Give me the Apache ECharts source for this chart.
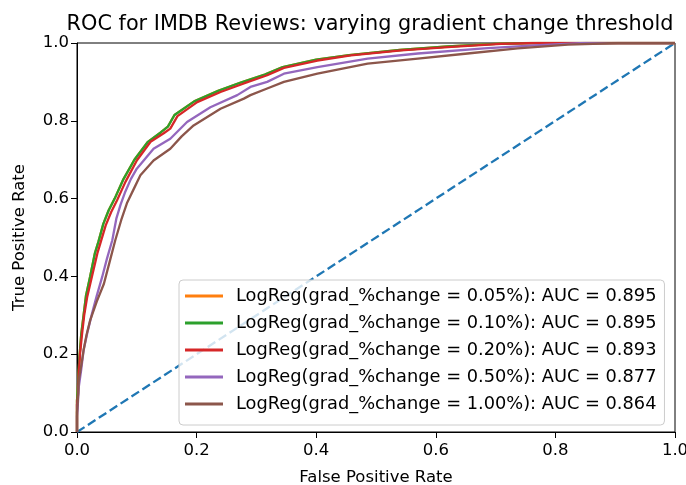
<!DOCTYPE html>
<html>
<head>
<meta charset="utf-8">
<script src="https://cdn.jsdelivr.net/npm/echarts@6/dist/echarts.min.js"></script>
<style>html,body{margin:0;padding:0;background:#fff}#chart{width:686px;height:485px}</style>
</head>
<body>
<div id="chart"></div>
<script>
const seriesNames = [
  'LogReg(grad_%change = 0.05%): AUC = 0.895',
  'LogReg(grad_%change = 0.10%): AUC = 0.895',
  'LogReg(grad_%change = 0.20%): AUC = 0.893',
  'LogReg(grad_%change = 0.50%): AUC = 0.877',
  'LogReg(grad_%change = 1.00%): AUC = 0.864'
];
const xTicks = [0, 0.2, 0.4, 0.6, 0.8, 1.0];
const yTicks = [0, 0.2, 0.4, 0.6, 0.8, 1.0];

const roc005 = [[0,0],[0,0.08],[0.002,0.13],[0.004,0.19],[0.007,0.25],[0.011,0.30],[0.015,0.35],[0.022,0.40],[0.030,0.46],[0.036,0.49],[0.044,0.535],[0.053,0.57],[0.063,0.60],[0.077,0.648],[0.096,0.70],[0.118,0.745],[0.140,0.77],[0.152,0.785],[0.163,0.815],[0.196,0.85],[0.236,0.877],[0.275,0.899],[0.314,0.919],[0.344,0.938],[0.40,0.957],[0.455,0.969],[0.54,0.982],[0.62,0.991],[0.70,0.998],[0.76,1],[1,1]];
const roc010 = [[0,0],[0,0.08],[0.002,0.13],[0.004,0.19],[0.007,0.25],[0.011,0.30],[0.015,0.35],[0.022,0.40],[0.030,0.46],[0.036,0.49],[0.044,0.535],[0.053,0.57],[0.063,0.60],[0.077,0.648],[0.096,0.70],[0.118,0.745],[0.140,0.77],[0.152,0.785],[0.163,0.815],[0.196,0.85],[0.236,0.877],[0.275,0.899],[0.314,0.919],[0.344,0.938],[0.40,0.957],[0.455,0.969],[0.54,0.982],[0.62,0.991],[0.70,0.998],[0.76,1],[1,1]];
const roc020 = [[0,0],[0,0.07],[0.002,0.10],[0.003,0.15],[0.005,0.20],[0.0085,0.253],[0.012,0.30],[0.017,0.347],[0.025,0.40],[0.034,0.459],[0.040,0.49],[0.048,0.531],[0.057,0.565],[0.067,0.596],[0.081,0.643],[0.100,0.698],[0.123,0.746],[0.145,0.768],[0.156,0.78],[0.168,0.812],[0.201,0.848],[0.240,0.874],[0.279,0.896],[0.318,0.917],[0.346,0.936],[0.402,0.955],[0.458,0.968],[0.542,0.981],[0.626,0.990],[0.709,0.998],[0.77,1],[1,1]];
const roc050 = [[0,0],[0,0.04],[0.001,0.06],[0.003,0.116],[0.007,0.16],[0.011,0.21],[0.018,0.26],[0.025,0.304],[0.033,0.35],[0.042,0.398],[0.050,0.445],[0.059,0.493],[0.066,0.55],[0.073,0.585],[0.080,0.615],[0.090,0.65],[0.100,0.677],[0.128,0.728],[0.156,0.754],[0.184,0.797],[0.223,0.835],[0.268,0.866],[0.290,0.887],[0.318,0.90],[0.346,0.921],[0.402,0.938],[0.486,0.96],[0.570,0.973],[0.681,0.986],[0.765,0.994],[0.85,1],[1,1]];
const roc100 = [[0,0],[0,0.05],[0.001,0.07],[0.003,0.133],[0.007,0.17],[0.011,0.21],[0.016,0.25],[0.022,0.287],[0.033,0.335],[0.045,0.381],[0.055,0.44],[0.064,0.493],[0.074,0.545],[0.084,0.59],[0.095,0.625],[0.106,0.66],[0.128,0.698],[0.156,0.728],[0.175,0.76],[0.195,0.788],[0.240,0.831],[0.279,0.857],[0.290,0.866],[0.318,0.883],[0.346,0.90],[0.402,0.921],[0.486,0.947],[0.570,0.96],[0.653,0.973],[0.737,0.986],[0.821,0.996],[0.905,1],[1,1]];
const chance = [[0,0],[1,1]];

const colors = ['#ff7f0e','#2ca02c','#d62728','#9467bd','#8c564b'];
const rocData = [roc005, roc010, roc020, roc050, roc100];
const FONT = 'DejaVu Sans';

const chart = echarts.init(document.getElementById('chart'), null, {renderer:'canvas'});
const lineSeries = rocData.map((d,i)=>({
  name: seriesNames[i], type:'line', data:d, showSymbol:false, symbol:'none',
  lineStyle:{color:colors[i], width:2.3}, itemStyle:{color:colors[i]}, z: 3+i, animation:false
}));
chart.setOption({
  animation:false,
  backgroundColor:'#fff',
  title:{text:'ROC for IMDB Reviews: varying gradient change threshold', left:365, top:9, textAlign:'center',
    textStyle:{fontFamily:FONT, fontSize:20.8, fontWeight:'normal', color:'#000'}},
  grid:{left:77, right:11, top:43, bottom:53, show:true, borderColor:'#000', borderWidth:1,
    containLabel:false, outerBoundsMode:'none'},
  legend:{
    orient:'vertical', left:179, top:280, icon:'rect', itemWidth:38, itemHeight:3, itemGap:9,
    padding:[7,8,12,6], backgroundColor:'rgba(255,255,255,0.8)', borderColor:'#cccccc', borderWidth:1, borderRadius:4,
    data: seriesNames,
    textStyle:{fontFamily:FONT, fontSize:17.8, color:'#000', lineHeight:17, padding:[0,0,0,8]}
  },
  xAxis:{type:'value', min:0, max:1, interval:0.2, name:'False Positive Rate', nameLocation:'middle', nameGap:37,
    nameTextStyle:{fontFamily:FONT, fontSize:16.5, color:'#000'},
    axisLine:{show:true, onZero:false, lineStyle:{color:'#000', width:1}},
    axisTick:{show:true, length:6, lineStyle:{color:'#000'}},
    axisLabel:{fontFamily:FONT, fontSize:16.5, color:'#000', margin:10, formatter:v=>v.toFixed(1)},
    splitLine:{show:false}},
  yAxis:{type:'value', min:0, max:1, interval:0.2, name:'True Positive Rate', nameLocation:'middle', nameGap:49,
    nameTextStyle:{fontFamily:FONT, fontSize:16.5, color:'#000'},
    axisLine:{show:true, onZero:false, lineStyle:{color:'#000', width:1}},
    axisTick:{show:true, length:6, lineStyle:{color:'#000'}},
    axisLabel:{fontFamily:FONT, fontSize:16.5, color:'#000', margin:8, formatter:v=>v.toFixed(1)},
    splitLine:{show:false}},
  series:[{name:'chance', type:'line', data:chance, showSymbol:false, symbol:'none',
      lineStyle:{color:'#1f77b4', width:2.3, type:[9,4]}, z:2}].concat(lineSeries)
});
</script>
</body>
</html>
